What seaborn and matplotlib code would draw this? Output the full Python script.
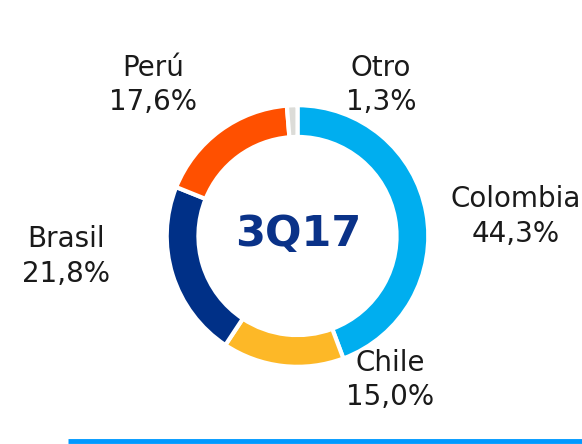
import matplotlib
matplotlib.use("Agg")
import matplotlib.pyplot as plt
import seaborn as sns

categories = ["Colombia", "Chile", "Brasil", "Perú", "Otro"]
values = [44.3, 15.0, 21.8, 17.6, 1.3]
value_labels = ["44,3%", "15,0%", "21,8%", "17,6%", "1,3%"]
colors = ["#00AEEF", "#FDB827", "#003087", "#FF5000", "#DCDCD8"]
center_label = "3Q17"

sns.set_theme(style="white")
plt.rcParams['font.family'] = ['DejaVu Sans']

W, H = 582, 444
fig = plt.figure(figsize=(W / 100, H / 100), dpi=100)

cx, cy, r = 297.5, 236, 129.5
ax = fig.add_axes([(cx - r) / W, (H - cy - r) / H, 2 * r / W, 2 * r / H])
ax.pie(values, colors=colors, startangle=90, counterclock=False, radius=1.01,
       wedgeprops=dict(width=0.245, edgecolor="white", linewidth=3))
ax.set_xlim(-1.0, 1.0)
ax.set_ylim(-1.0, 1.0)
ax.set_aspect("auto")
ax.axis("off")

# overlay axes in pixel coordinates for text/line
ov = fig.add_axes([0, 0, 1, 1], facecolor="none")
ov.set_xlim(0, W)
ov.set_ylim(H, 0)
ov.axis("off")

ov.text(298, 234, center_label, ha="center", va="center", fontsize=31,
        fontweight="bold", color="#0A3288")

# (x center, baseline of name, baseline of value)
label_pos = {
    "Colombia": (516, 207, 242),
    "Chile": (390, 371, 405),
    "Brasil": (66, 247, 282),
    "Perú": (153, 76, 110),
    "Otro": (381, 76, 110),
}
for cat, vl in zip(categories, value_labels):
    x, y1, y2 = label_pos[cat]
    ov.text(x, y1, cat, ha="center", va="baseline", fontsize=20, color="#1a1a1a")
    ov.text(x, y2, vl, ha="center", va="baseline", fontsize=20, color="#1a1a1a")

ov.plot([68, 582], [441, 441], color="#0099FF", linewidth=3.5, solid_capstyle="butt")

fig.savefig("out.png", dpi=100)
